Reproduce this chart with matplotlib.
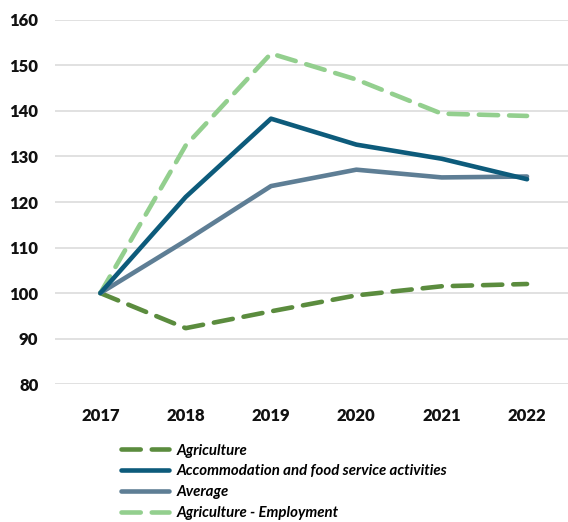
import matplotlib
matplotlib.use("Agg")
import matplotlib.pyplot as plt

years = [2017, 2018, 2019, 2020, 2021, 2022]
agriculture = [100, 92.3, 96.0, 99.5, 101.5, 102.0]
accommodation = [100, 121.1, 138.3, 132.6, 129.5, 125.0]
average = [100, 111.5, 123.5, 127.1, 125.4, 125.6]
agri_employment = [100, 132.4, 152.6, 146.9, 139.4, 138.9]

C_AGRI = "#5b8c3e"
C_ACCOM = "#0d5b7b"
C_AVG = "#5e7e95"
C_EMPL = "#93cf8e"

plt.rcParams["font.family"] = ["Lato", "DejaVu Sans"]

fig = plt.figure(figsize=(5.68, 5.22), dpi=100, facecolor="white")
ax = fig.add_axes([0.097, 0.264, 0.903, 0.698])

lw = 3.3
dash = (0, (4.2, 2.4))
ax.plot(years, agriculture, color=C_AGRI, lw=lw, ls=dash, dash_capstyle="round",
        solid_joinstyle="round", label="Agriculture", zorder=3)
ax.plot(years, accommodation, color=C_ACCOM, lw=lw, solid_capstyle="round",
        solid_joinstyle="round", label="Accommodation and food service activities", zorder=4)
ax.plot(years, average, color=C_AVG, lw=lw, solid_capstyle="round",
        solid_joinstyle="round", label="Average", zorder=3)
ax.plot(years, agri_employment, color=C_EMPL, lw=lw, ls=dash, dash_capstyle="round",
        label="Agriculture - Employment", zorder=3)

ax.set_xlim(2016.47, 2022.48)
ax.set_ylim(80, 160)
ax.set_yticks(range(80, 161, 10))
ax.set_xticks(years)
ax.yaxis.grid(True, color="#d9d9d9", lw=1.1)
ax.set_axisbelow(True)
for s in ax.spines.values():
    s.set_visible(False)
ax.tick_params(axis="both", length=0, labelsize=12, colors="#111111")
ax.tick_params(axis="y", pad=12)
ax.tick_params(axis="x", pad=17)
for lab in ax.get_xticklabels() + ax.get_yticklabels():
    lab.set_fontweight("heavy")

fig.legend(loc="upper left", bbox_to_anchor=(0.19, 0.176), frameon=False,
           handlelength=3.2, handletextpad=0.5, labelspacing=0.45,
           prop={"size": 10.8, "style": "italic", "weight": "bold"})

plt.savefig("out.png", dpi=100, facecolor=fig.get_facecolor())
